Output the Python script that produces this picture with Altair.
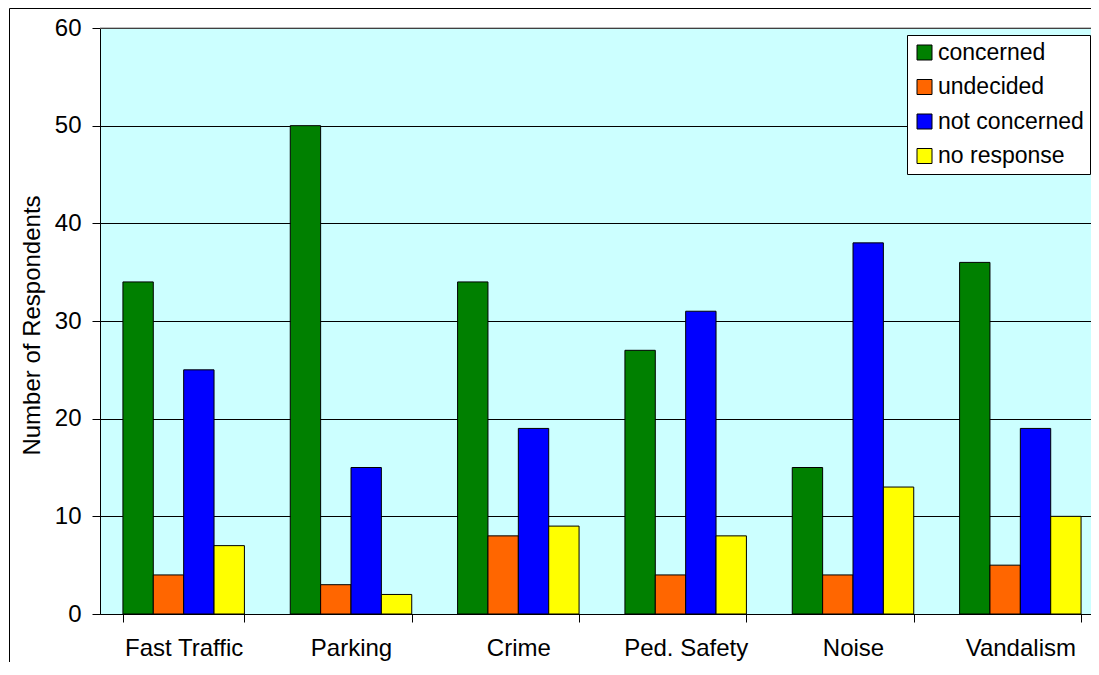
import altair as alt
import pandas as pd

categories = ["Fast Traffic", "Parking", "Crime", "Ped. Safety", "Noise", "Vandalism"]
series = ["concerned", "undecided", "not concerned", "no response"]
concerned = [34, 50, 34, 27, 15, 36]
undecided = [4, 3, 8, 4, 4, 5]
not_concerned = [25, 15, 19, 31, 38, 19]
no_response = [7, 2, 9, 8, 13, 10]
colors = ["#008000", "#FF6600", "#0000FF", "#FFFF00"]
y_ticks = [0, 10, 20, 30, 40, 50, 60]

rows = []
for name, vals in zip(series, [concerned, undecided, not_concerned, no_response]):
    for c, v in zip(categories, vals):
        rows.append({"category": c, "series": name, "value": v})
df = pd.DataFrame(rows)

FONT = "Liberation Sans"

bars = alt.Chart(df).mark_bar(stroke="black", strokeWidth=1).encode(
    x=alt.X("category:N", sort=categories, title=None,
            scale=alt.Scale(paddingInner=0.274, paddingOuter=0.137, range=[0, 1004]),
            axis=alt.Axis(labelAngle=0, tickBand="extent", tickSize=8, tickColor="black",
                          domainColor="black", labelFont=FONT, labelFontSize=24,
                          labelColor="black", labelPadding=14, grid=False)),
    xOffset=alt.XOffset("series:N", sort=series,
                        scale=alt.Scale(paddingInner=0, paddingOuter=0)),
    y=alt.Y("value:Q", title="Number of Respondents",
            scale=alt.Scale(domain=[0, 60], nice=False),
            axis=alt.Axis(values=y_ticks, tickSize=8, tickColor="black", domainColor="black",
                          gridColor="black", gridWidth=1, labelFont=FONT, labelFontSize=24,
                          labelColor="black", labelPadding=11, titleFont=FONT,
                          titleFontSize=24, titleFontWeight="normal", titleColor="black",
                          titleAngle=-90, titleX=-61, titleY=297,
                          titleBaseline="alphabetic", titleAlign="center")),
    color=alt.Color("series:N", sort=series,
                    scale=alt.Scale(domain=series, range=colors),
                    legend=alt.Legend(title=None, orient="none", legendX=807, legendY=7,
                                      symbolType="square", symbolSize=225,
                                      symbolStrokeColor="black", symbolStrokeWidth=1,
                                      labelFont=FONT, labelFontSize=23, labelColor="black",
                                      labelOffset=2, rowPadding=10.5, padding=6,
                                      strokeColor="black", fillColor="white")),
)

one = pd.DataFrame({"a": [0]})

frame = alt.Chart(one).mark_rect(
    fill=None, stroke="black", strokeWidth=1
).encode(
    x=alt.value(-90.5), x2=alt.value(1200), y=alt.value(-19.5), y2=alt.value(800)
)

top_line = alt.Chart(one).mark_rule(color="#808080", strokeWidth=1).encode(
    x=alt.value(0), x2=alt.value(1004), y=alt.value(0)
)

chart = alt.layer(frame, bars, top_line).properties(
    width=991, height=586,
    autosize=alt.AutoSizeParams(type="none"),
    padding={"left": 92, "top": 20, "right": 0, "bottom": 48},
).configure_view(fill="#CCFFFF", stroke=None)

chart.save("out.html", embed_options={"renderer": "svg", "actions": False})
